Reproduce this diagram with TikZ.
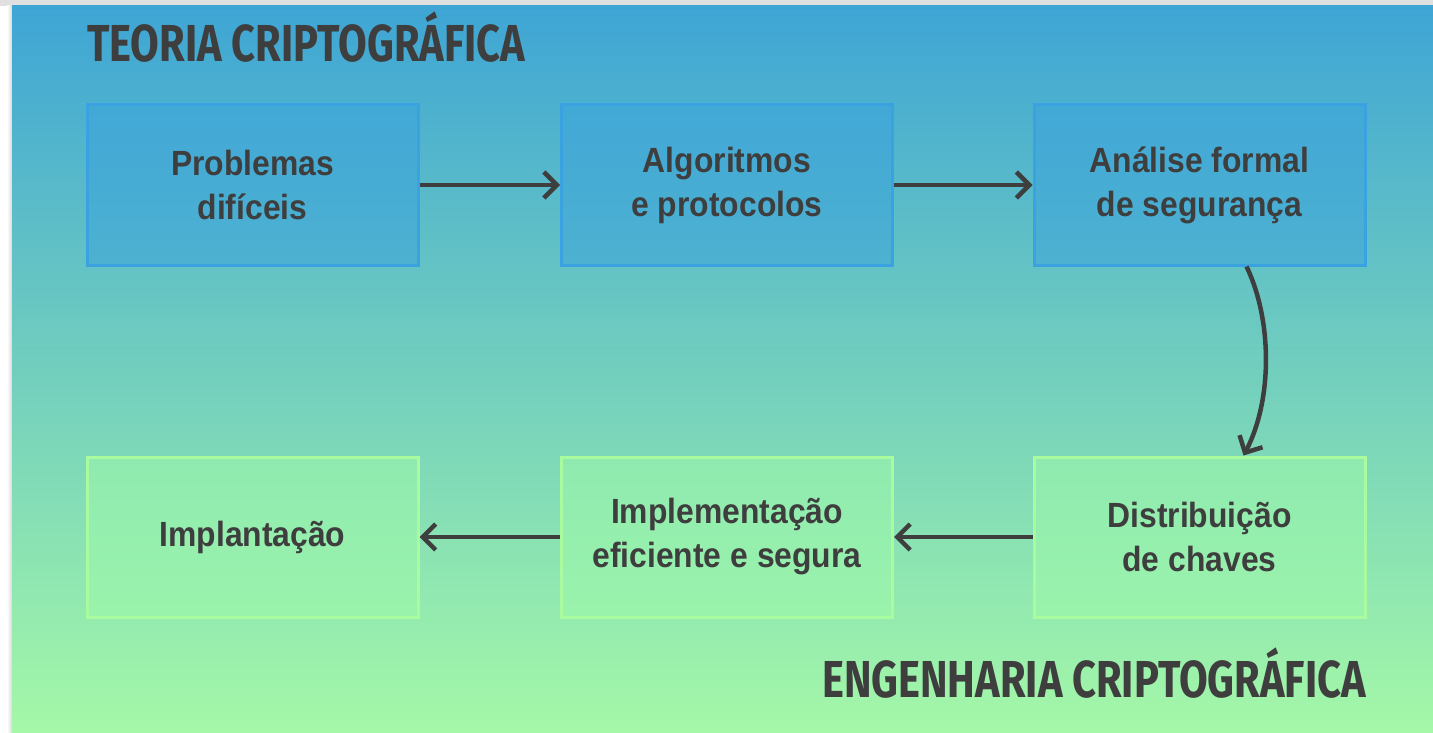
\documentclass[tikz,border=0pt]{standalone}
\usepackage{fontspec}
\setmainfont{Liberation Sans}
\newfontfamily\boxfont[FakeStretch=0.91]{Liberation Sans}
\newfontfamily\titlefont[FakeStretch=0.8]{Fira Sans}
\usetikzlibrary{arrows.meta}
\definecolor{bgtop}{HTML}{3EA5D5}
\definecolor{bgbot}{HTML}{A5F8A7}
\definecolor{ink}{HTML}{3E3E3E}
\definecolor{tfill}{HTML}{39A1DE}
\definecolor{tdraw}{HTML}{3AA2E0}
\definecolor{gfill}{HTML}{A1FCA9}
\definecolor{gdraw}{HTML}{A8FC9F}
\tikzset{
  stagebox/.style={rectangle, minimum width=331pt, minimum height=160pt, inner sep=0pt,
    line width=3pt, align=center, text=ink,
    font=\boxfont\bfseries\fontsize{35}{44}\selectfont},
  theory/.style={stagebox, draw=tdraw, fill=tfill, fill opacity=0.5, text opacity=1},
  engin/.style={stagebox, draw=gdraw, fill=gfill, fill opacity=0.5, text opacity=1},
  flow/.style={draw=ink, line width=4.5pt, -{Straight Barb[length=13pt,width=26pt,line width=4.5pt]}},
  heading/.style={text=ink, inner sep=0pt, font=\titlefont\bfseries\fontsize{52}{58}\selectfont}
}
\begin{document}
\begin{tikzpicture}[x=1pt,y=-1pt]
\useasboundingbox (0,0) rectangle (1433,733);
\fill[white] (0,0) rectangle (1433,733);
\fill[black!12] (0,0) rectangle (1433,6);
\shade[left color=white, right color=black!15] (7,6) rectangle (12,733);
\shade[top color=bgtop, bottom color=bgbot] (12,6) rectangle (1433,733);

\node[heading, anchor=base west] (t1) at (87,62) {TEORIA CRIPTOGRÁFICA};
\node[heading, anchor=base east] (t2) at (1366,697) {ENGENHARIA CRIPTOGRÁFICA};

\node[theory] (b1) at (252.5,185) {Problemas\\difíceis};
\node[theory] (b2) at (727,185) {Algoritmos\\e protocolos};
\node[theory] (b3) at (1199.5,185) {Análise formal\\de segurança};
\node[engin] (b4) at (252.5,537) {Implantação};
\node[engin] (b5) at (727,537) {Implementação\\eficiente e segura};
\node[engin] (b6) at (1199.5,537) {Distribuição\\de chaves};

\draw[flow] (b1) -- (b2);
\draw[flow] (b2) -- (b3);
\draw[flow] ([xshift=47pt]b3.south) .. controls +(26,54) and +(29,-55) .. ([xshift=44pt]b6.north);
\draw[flow] (b6) -- (b5);
\draw[flow] (b5) -- (b4);
\end{tikzpicture}
\end{document}
